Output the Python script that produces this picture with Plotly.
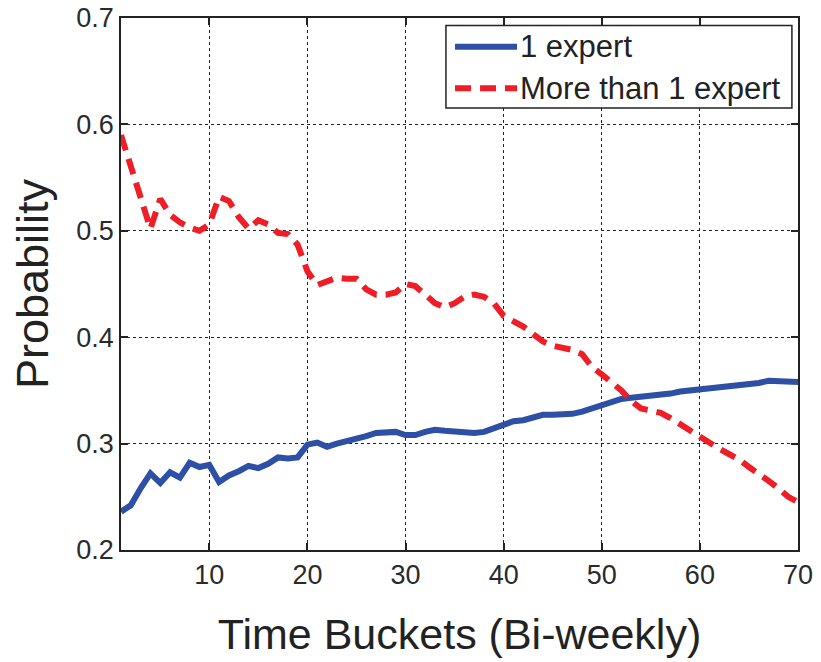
import plotly.graph_objects as go

# Time buckets (bi-weekly)
buckets = list(range(1, 71))

# Probability for questions answered by a single expert
one_expert = [
    0.236, 0.242, 0.258, 0.272, 0.263, 0.273, 0.268, 0.282, 0.278, 0.280,
    0.264, 0.270, 0.274, 0.279, 0.277, 0.281, 0.287, 0.286, 0.287, 0.299,
    0.301, 0.297, 0.300, 0.302, 0.304, 0.307, 0.310, 0.311, 0.311, 0.308,
    0.308, 0.311, 0.313, 0.312, 0.311, 0.310, 0.310, 0.311, 0.314, 0.318,
    0.321, 0.322, 0.325, 0.327, 0.327, 0.327, 0.328, 0.330, 0.333, 0.336,
    0.339, 0.342, 0.343, 0.344, 0.344, 0.345, 0.347, 0.349, 0.350, 0.351,
    0.352, 0.353, 0.354, 0.354, 0.356, 0.357, 0.359, 0.359, 0.358, 0.358,
]

# Probability for questions answered by more than one expert
many_experts = [
    0.590, 0.562, 0.532, 0.502, 0.530, 0.515, 0.508, 0.503, 0.500, 0.506,
    0.532, 0.528, 0.513, 0.502, 0.510, 0.506, 0.498, 0.497, 0.487, 0.462,
    0.449, 0.453, 0.456, 0.455, 0.455, 0.445, 0.440, 0.440, 0.442, 0.450,
    0.448, 0.440, 0.432, 0.428, 0.432, 0.438, 0.440, 0.438, 0.432, 0.420,
    0.415, 0.410, 0.403, 0.396, 0.392, 0.390, 0.388, 0.384, 0.372, 0.365,
    0.357, 0.350, 0.340, 0.333, 0.331, 0.329, 0.324, 0.318, 0.312, 0.307,
    0.300, 0.295, 0.290, 0.285, 0.278, 0.272, 0.265, 0.258, 0.250, 0.245,
]

x_ticks = [10, 20, 30, 40, 50, 60, 70]
y_ticks = [0.2, 0.3, 0.4, 0.5, 0.6, 0.7]

FONT = "Liberation Sans, Arial, sans-serif"
BLUE = "#2E4FA6"
RED = "#EE1D26"
RED_DASH = "16px,9px"

series = [
    ("1 expert", one_expert, dict(color=BLUE, width=6)),
    ("More than 1 expert", many_experts, dict(color=RED, width=6, dash=RED_DASH)),
]

fig = go.Figure()
for name, values, line in series:
    fig.add_trace(go.Scatter(x=buckets, y=values, mode="lines", name=name, line=line))

axis_common = dict(
    showline=True, linecolor="#222", linewidth=1.5, mirror="allticks",
    ticks="inside", ticklen=7, tickcolor="#222", tickwidth=1.5,
    showgrid=True, gridcolor="#222", gridwidth=1.2, griddash="dot",
    zeroline=False, automargin=False,
    tickfont=dict(family=FONT, size=27, color="#2a2a2a"),
)

# Boxed legend in the upper-right corner of the axes (paper coordinates)
box = dict(x0=0.480, x1=0.991, y0=0.831, y1=0.986)
rows_y = [0.946, 0.868]
sample_x = (0.4934, 0.585)
shapes = [dict(type="rect", xref="paper", yref="paper", **box,
               line=dict(color="#222", width=1.5), fillcolor="white", layer="above")]
annotations = []
for (name, _, line), ry in zip(series, rows_y):
    shapes.append(dict(type="line", xref="paper", yref="paper",
                       x0=sample_x[0], x1=sample_x[1], y0=ry, y1=ry,
                       line=dict(color=line["color"], width=line["width"],
                                 dash=line.get("dash", "solid")),
                       layer="above"))
    annotations.append(dict(text=name, xref="paper", yref="paper",
                            x=sample_x[1] + 0.001, y=ry, xanchor="left", yanchor="middle",
                            showarrow=False,
                            font=dict(family=FONT, size=31, color="#222")))

fig.update_layout(
    width=821, height=662,
    margin=dict(l=121, r=23, t=18, b=112),
    paper_bgcolor="white", plot_bgcolor="white",
    showlegend=False,
    shapes=shapes, annotations=annotations,
    xaxis=dict(
        range=[1, 70], tickvals=x_ticks,
        title=dict(text="Time Buckets (Bi-weekly)", standoff=30,
                   font=dict(family=FONT, size=43, color="#222")),
        **axis_common,
    ),
    yaxis=dict(
        range=[0.2, 0.7], tickvals=y_ticks, tickformat=".1f",
        title=dict(text="Probability", standoff=14,
                   font=dict(family=FONT, size=45, color="#222")),
        **axis_common,
    ),
)

fig.write_html("out.html")
